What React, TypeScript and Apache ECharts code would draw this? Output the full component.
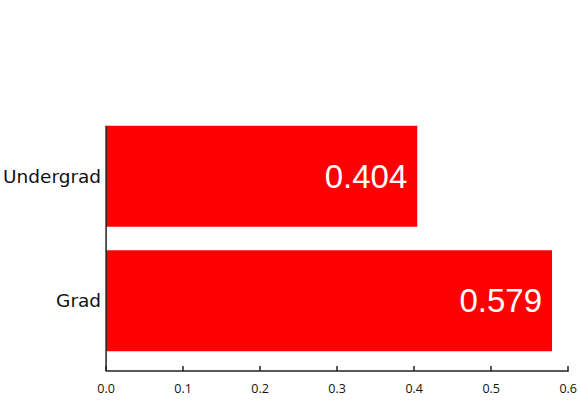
import React, { useEffect, useRef } from "react";
import * as echarts from "echarts";

const categories = ["Grad", "Undergrad"];
const values = [0.579, 0.404];
const xTicks = [0, 0.1, 0.2, 0.3, 0.4, 0.5, 0.6];

export default function App() {
  const ref = useRef<HTMLDivElement>(null);
  useEffect(() => {
    if (!ref.current) return;
    const chart = echarts.init(ref.current, null, { renderer: "svg" });
    const barWidth = 101;
    const offset = 8;
    chart.setOption({
      animation: false,
      grid: { left: 105, right: 6, top: 114, bottom: 43, containLabel: false },
      xAxis: {
        type: "value",
        min: xTicks[0],
        max: xTicks[xTicks.length - 1],
        interval: 0.1,
        offset,
        axisLine: { show: true, lineStyle: { color: "#222", width: 1.5 } },
        axisTick: { show: true, inside: true, length: 5, lineStyle: { color: "#222", width: 1.5 } },
        axisLabel: {
          color: "#111",
          fontSize: 12.5,
          fontFamily: "Open Sans",
          margin: 11,
          formatter: (v: number) => v.toFixed(1),
        },
        splitLine: { show: false },
      },
      yAxis: {
        type: "category",
        data: categories,
        axisLine: { show: false },
        axisTick: { show: false },
        axisLabel: { color: "#111", fontSize: 18.5, fontFamily: "DejaVu Sans", margin: 5 },
      },
      series: [
        {
          type: "bar",
          data: values,
          barWidth,
          itemStyle: { color: "#ff0000" },
          label: {
            show: true,
            position: "insideRight",
            distance: 10,
            color: "#ffffff",
            fontSize: 33,
            fontFamily: "Liberation Sans",
            formatter: (p: any) => String(p.value),
          },
        },
      ],
    });
    const x0 = chart.convertToPixel({ xAxisIndex: 0 }, 0) as number;
    const cTop = chart.convertToPixel({ yAxisIndex: 0 }, categories[1]) as number;
    const cBot = chart.convertToPixel({ yAxisIndex: 0 }, categories[0]) as number;
    const band = cBot - cTop;
    const yTop = cTop - barWidth / 2;
    const yBot = cBot + band / 2 + offset;
    chart.setOption({
      graphic: [
        {
          type: "line",
          shape: { x1: x0, y1: yTop, x2: x0, y2: yBot },
          style: { stroke: "#222", lineWidth: 1.5 },
          z: 10,
        },
      ],
    });
    return () => chart.dispose();
  }, []);
  return (
    <div
      ref={ref}
      style={{ position: "fixed", left: 0, top: 0, width: 580, height: 406, background: "#fff" }}
    />
  );
}
